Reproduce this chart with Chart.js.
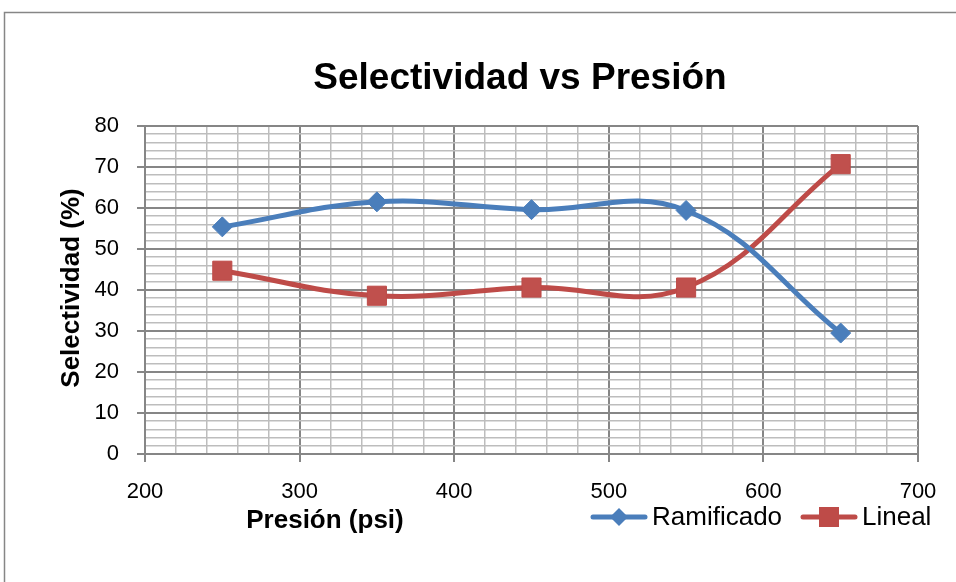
<!DOCTYPE html>
<html>
<head>
<meta charset="utf-8">
<script src="https://cdn.jsdelivr.net/npm/chart.js@4.4.1/dist/chart.umd.min.js"></script>
<style>
  html, body { margin: 0; padding: 0; background: #fff; overflow: hidden; }
  #wrap { position: relative; width: 956px; height: 582px; }
</style>
</head>
<body>
<div id="wrap"><canvas id="selChart" width="956" height="582"></canvas></div>
<script>
// data
const presion = [250, 350, 450, 550, 650];
const ramificado = [55.4, 61.5, 59.6, 59.4, 29.5];
const lineal = [44.7, 38.6, 40.6, 40.6, 70.7];
const xTickLabels = [200, 300, 400, 500, 600, 700];
const yTickLabels = [0, 10, 20, 30, 40, 50, 60, 70, 80];

const FONT = 'Arial, "Liberation Sans", sans-serif';
const MAJOR = '#868686';
const MINOR = '#bdbdbd';
const BLUE = '#4A7EBB';
const RED = '#BE4B48';

function pts(xs, ys) {
    return xs.map((x, i) => ({ x: x, y: ys[i] }));
}

// title, axis titles, legend and outer frame
const decor = {
    id: 'decor',
    beforeDraw(chart) {
        const c = chart.ctx;
        c.save();
        c.strokeStyle = MAJOR;
        c.lineWidth = 1.5;
        c.beginPath();
        c.moveTo(4.5, 582);
        c.lineTo(4.5, 12.5);
        c.lineTo(956, 12.5);
        c.stroke();
        c.restore();
    },
    afterDraw(chart) {
        const c = chart.ctx;
        c.save();
        c.fillStyle = '#000';
        c.textBaseline = 'middle';
        c.textAlign = 'center';
        c.font = 'bold 37px ' + FONT;
        c.fillText('Selectividad vs Presión', 520, 79);

        c.font = 'bold 26px ' + FONT;
        c.fillText('Presión (psi)', 325, 521);
        c.save();
        c.translate(72, 288);
        c.rotate(-Math.PI / 2);
        c.fillText('Selectividad (%)', 0, 0);
        c.restore();

        // legend
        const items = [
            { label: 'Ramificado', color: BLUE, shape: 'diamond', x: 593 },
            { label: 'Lineal', color: RED, shape: 'square', x: 803 }
        ];
        const ly = 517;
        items.forEach(it => {
            c.strokeStyle = it.color;
            c.lineWidth = 5;
            c.lineCap = 'round';
            c.beginPath();
            c.moveTo(it.x, ly);
            c.lineTo(it.x + 52, ly);
            c.stroke();
            c.fillStyle = it.color;
            const mx = it.x + 26;
            c.beginPath();
            if (it.shape === 'diamond') {
                c.moveTo(mx - 9, ly);
                c.lineTo(mx, ly - 9);
                c.lineTo(mx + 9, ly);
                c.lineTo(mx, ly + 9);
                c.closePath();
            } else {
                c.rect(mx - 10, ly - 10, 20, 20);
            }
            c.fill();
            c.fillStyle = '#000';
            c.textAlign = 'left';
            c.font = '26px ' + FONT;
            c.fillText(it.label, it.x + 59, ly + 1);
        });
        c.restore();
    }
};

new Chart(document.getElementById('selChart'), {
    type: 'scatter',
    data: {
        datasets: [{
            label: 'Ramificado',
            data: pts(presion, ramificado),
            showLine: true,
            borderColor: BLUE,
            backgroundColor: BLUE,
            borderWidth: 5,
            tension: 0.4,
            pointStyle: 'rectRot',
            pointRadius: 10,
            pointBorderWidth: 1,
            pointBackgroundColor: BLUE,
            pointBorderColor: BLUE
        }, {
            label: 'Lineal',
            data: pts(presion, lineal),
            showLine: true,
            borderColor: RED,
            backgroundColor: RED,
            borderWidth: 5,
            tension: 0.4,
            pointStyle: 'rect',
            pointRadius: 13.5,
            pointBorderWidth: 1,
            pointBackgroundColor: '#C0504D',
            pointBorderColor: RED
        }]
    },
    options: {
        responsive: false,
        animation: false,
        devicePixelRatio: 1,
        layout: { padding: { top: 126, right: 38, left: 0, bottom: 0 } },
        plugins: {
            legend: { display: false },
            title: { display: false },
            tooltip: { enabled: false }
        },
        scales: {
            x: {
                type: 'linear',
                min: 200,
                max: 700,
                afterFit: s => { s.height = 128; },
                ticks: {
                    stepSize: 20,
                    autoSkip: false,
                    maxRotation: 0,
                    padding: 17,
                    color: '#000',
                    font: { family: FONT, size: 22 },
                    callback: v => xTickLabels.includes(v) ? String(v) : ''
                },
                grid: {
                    color: ctx => xTickLabels.includes(ctx.tick.value) ? MAJOR : MINOR,
                    lineWidth: ctx => xTickLabels.includes(ctx.tick.value) ? 2 : 1.5,
                    tickColor: ctx => xTickLabels.includes(ctx.tick.value) ? MAJOR : 'rgba(0,0,0,0)',
                    tickLength: 8
                },
                border: { color: MAJOR, width: 2 }
            },
            y: {
                min: 0,
                max: 80,
                afterFit: s => { s.width = 145; },
                ticks: {
                    stepSize: 2,
                    autoSkip: false,
                    padding: 18,
                    color: '#000',
                    font: { family: FONT, size: 22 },
                    callback: v => yTickLabels.includes(v) ? String(v) : ''
                },
                grid: {
                    color: ctx => yTickLabels.includes(ctx.tick.value) ? MAJOR : MINOR,
                    lineWidth: ctx => yTickLabels.includes(ctx.tick.value) ? 2 : 1.5,
                    tickColor: ctx => yTickLabels.includes(ctx.tick.value) ? MAJOR : 'rgba(0,0,0,0)',
                    tickLength: 8
                },
                border: { color: MAJOR, width: 2 }
            }
        }
    },
    plugins: [decor]
});
</script>
</body>
</html>
